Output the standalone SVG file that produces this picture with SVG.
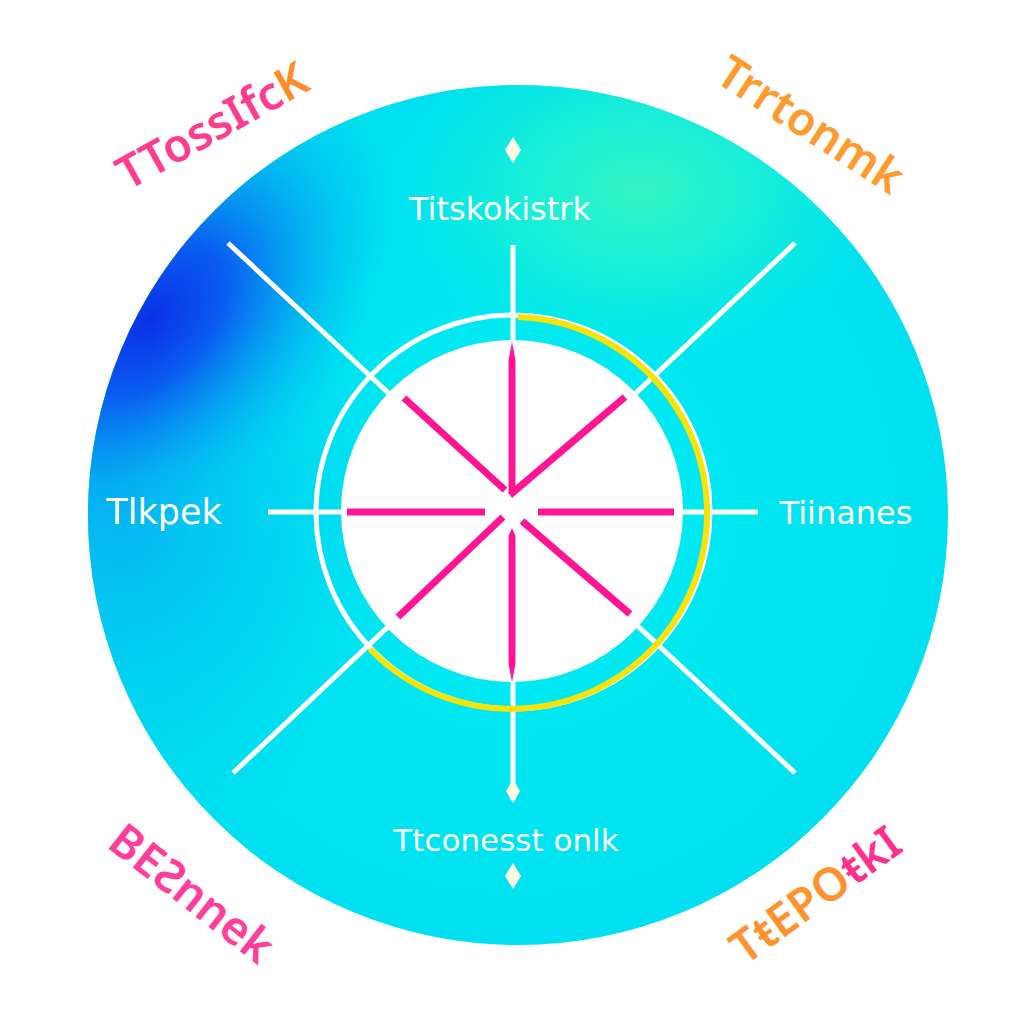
<svg xmlns="http://www.w3.org/2000/svg" width="1024" height="1024" viewBox="0 0 1024 1024">
<defs>
<radialGradient id="base" cx="0.5" cy="0.5" r="0.5">
<stop offset="0" stop-color="#00eef2"/>
<stop offset="1" stop-color="#00e0f0"/>
</radialGradient>
<radialGradient id="blue" cx="0" cy="0" r="1" gradientUnits="userSpaceOnUse" gradientTransform="translate(150 320) rotate(-45) scale(300 190)">
<stop offset="0" stop-color="#0a30e8"/>
<stop offset="0.3" stop-color="#0a5cf0"/>
<stop offset="0.7" stop-color="#05a8f2" stop-opacity="0.6"/>
<stop offset="1" stop-color="#00c8f0" stop-opacity="0"/>
</radialGradient>
<radialGradient id="leftb" cx="120" cy="520" r="330" gradientUnits="userSpaceOnUse">
<stop offset="0" stop-color="#0aa0f0" stop-opacity="0.7"/>
<stop offset="1" stop-color="#00d0f0" stop-opacity="0"/>
</radialGradient>
<radialGradient id="mint" cx="0" cy="0" r="1" gradientUnits="userSpaceOnUse" gradientTransform="translate(640 190) scale(250 170)">
<stop offset="0" stop-color="#36f5c4"/>
<stop offset="0.5" stop-color="#20f2d0" stop-opacity="0.7"/>
<stop offset="1" stop-color="#10f0d8" stop-opacity="0"/>
</radialGradient>
<linearGradient id="spokeO" x1="625" y1="397" x2="510" y2="495" gradientUnits="userSpaceOnUse">
<stop offset="0" stop-color="#ff1a8c"/>
<stop offset="0.7" stop-color="#ff3070"/>
<stop offset="1" stop-color="#ffa040"/>
</linearGradient>
<style>
.wl{stroke:#ffffff;stroke-width:5;fill:none}
.pk{stroke:#ff1493;stroke-width:7;stroke-linecap:butt;fill:none}
.lbl{font-family:"DejaVu Sans","Noto Sans",sans-serif;fill:#ffffff}
.cor{font-family:"Noto Sans","DejaVu Sans",sans-serif;font-size:46px;font-weight:600;text-anchor:middle}
.dia{fill:#fffbe0}
</style>
</defs>
<rect width="1024" height="1024" fill="#ffffff"/>
<g id="disc">
<circle cx="518" cy="515" r="430" fill="url(#base)"/>
<circle cx="518" cy="515" r="430" fill="url(#mint)"/>
<circle cx="518" cy="515" r="430" fill="url(#leftb)"/>
<circle cx="518" cy="515" r="430" fill="url(#blue)"/>
</g>
<g id="connectors">
<line class="wl" x1="513" y1="245" x2="513" y2="800"/>
<line class="wl" x1="268" y1="512" x2="758" y2="512"/>
<line class="wl" x1="228" y1="243" x2="795" y2="773"/>
<line class="wl" x1="795" y1="243" x2="233" y2="773"/>
</g>
<g id="ring">
<circle cx="513" cy="512" r="197" fill="none" stroke="#ffffff" stroke-width="5"/>
<path d="M 518 317 A 196 196 0 1 1 370 649" fill="none" stroke="#f7e20a" stroke-width="6"/>
<circle cx="512" cy="511" r="171" fill="#ffffff"/>
</g>
<g id="spokes">
<path d="M512 342 L515.5 360 L515.5 490 L512 498 L508.5 490 L508.5 360 Z" fill="#ff1493"/>
<path d="M512 528 L515.5 536 L515.5 664 L512 682 L508.5 664 L508.5 536 Z" fill="#ff1493"/>
<line class="pk" x1="347" y1="512" x2="485" y2="512"/>
<line class="pk" x1="538" y1="512" x2="674" y2="512"/>
<line class="pk" x1="404" y1="398" x2="505" y2="490"/>
<line class="pk" x1="625" y1="397" x2="510" y2="495" stroke="url(#spokeO)"/>
<line class="pk" x1="398" y1="617" x2="503" y2="517"/>
<line class="pk" x1="630" y1="614" x2="522" y2="521"/>
</g>
<g id="diamonds">
<path class="dia" d="M513 137 L521 150 L513 163 L505 150 Z"/>
<path class="dia" d="M513 779 L520 791 L513 803 L506 791 Z"/>
<path class="dia" d="M513 863 L521 876 L513 889 L505 876 Z"/>
</g>
<g id="node-top"><text class="lbl" x="500" y="220" font-size="32" text-anchor="middle">Titskokistrk</text></g>
<g id="node-bottom"><text class="lbl" x="506" y="851" font-size="31" text-anchor="middle">Ttconesst onlk</text></g>
<g id="node-left"><text class="lbl" x="164" y="524" font-size="35" text-anchor="middle">Tlkpek</text></g>
<g id="node-right"><text class="lbl" x="846" y="524" font-size="32" text-anchor="middle">Tiinanes</text></g>
<g id="corner-tl"><text class="cor" transform="translate(220,140) rotate(-29)" fill="#ff3d8f">TTossIfc<tspan fill="#ff8c2a">K</tspan></text></g>
<g id="corner-tr"><text class="cor" transform="translate(802,138) rotate(33)" fill="#ff9a2e">Trrtonmk</text></g>
<g id="corner-bl"><text class="cor" transform="translate(182,906) rotate(38)" fill="#ff3d9a">BEƧnnek</text></g>
<g id="corner-br"><text class="cor" transform="translate(825,908) rotate(-36)" fill="#ff922e">TŧEPO<tspan fill="#ff2f8c">ŧkI</tspan></text></g>
</svg>
